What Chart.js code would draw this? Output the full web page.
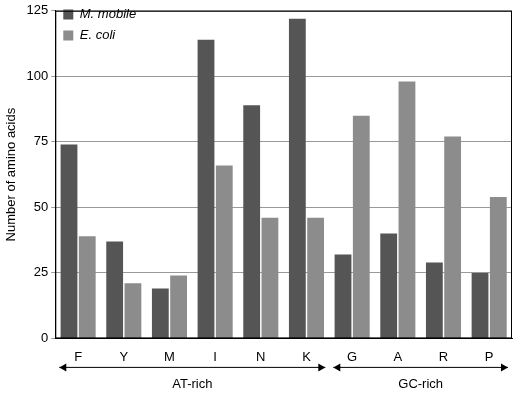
<!DOCTYPE html><html><head><script src="https://cdn.jsdelivr.net/npm/chart.js"></script>
<style>body{margin:0;background:#fff}#w{width:520px;height:404px}</style></head><body><div id="w"><canvas id="c"></canvas></div>
<script>
const categories=['F','Y','M','I','N','K','G','A','R','P'];
const mobile=[74,37,19,114,89,122,32,40,29,25];
const ecoli=[39,21,24,66,46,46,85,98,77,54];
const yTicks=[0,25,50,75,100,125];
const groups=[{label:'AT-rich',from:0,to:5},{label:'GC-rich',from:6,to:9}];
const ann={id:'ann',afterDraw(ch){const c=ch.ctx,x=ch.scales.x,a=ch.chartArea;
c.save();c.strokeStyle='#000';c.lineWidth=1;c.strokeRect(a.left+.5,a.top+.5,a.right-a.left-1,a.bottom-a.top-1);
const step=x.getPixelForValue(1)-x.getPixelForValue(0);const y=a.bottom+29;
groups.forEach(g=>{const l=x.getPixelForValue(g.from)-step/2+4,r=x.getPixelForValue(g.to)+step/2-4;
c.beginPath();c.moveTo(l,y);c.lineTo(r,y);c.stroke();
[[l,1],[r,-1]].forEach(([p,d])=>{c.beginPath();c.moveTo(p,y);c.lineTo(p+7*d,y-4);c.lineTo(p+7*d,y+4);c.closePath();c.fillStyle='#000';c.fill();});
c.fillStyle='#000';c.font='13px Arial, Liberation Sans';c.textAlign='center';c.textBaseline='middle';
c.fillText(g.label,(l+r)/2,y+17);});
c.restore();}};
new Chart(document.getElementById('c'),{type:'bar',data:{labels:categories,datasets:[
{label:'M. mobile',data:mobile,backgroundColor:'#555555'},
{label:'E. coli',data:ecoli,backgroundColor:'#8c8c8c'}]},
options:{responsive:true,maintainAspectRatio:false,animation:false,
layout:{padding:{top:8,right:8,bottom:36,left:0}},
datasets:{bar:{categoryPercentage:0.8,barPercentage:0.92}},
plugins:{tooltip:{enabled:false},legend:{position:'chartArea',align:'start',display:true,
labels:{boxWidth:10,boxHeight:10,color:'#000',font:{size:13,style:'italic',family:'Arial, Liberation Sans'},padding:8}}},
scales:{x:{grid:{display:false},border:{color:'#000'},ticks:{color:'#000',font:{size:13,family:'Arial, Liberation Sans'}}},
y:{min:0,max:125,afterBuildTicks(s){s.ticks=yTicks.map(v=>({value:v}));},
grid:{color:'#999',drawTicks:true,tickLength:4},border:{color:'#000'},
ticks:{color:'#000',font:{size:13,family:'Arial, Liberation Sans'}},
title:{display:true,text:'Number of amino acids',color:'#000',font:{size:13,family:'Arial, Liberation Sans'}}}}},
plugins:[ann]});
</script></body></html>
